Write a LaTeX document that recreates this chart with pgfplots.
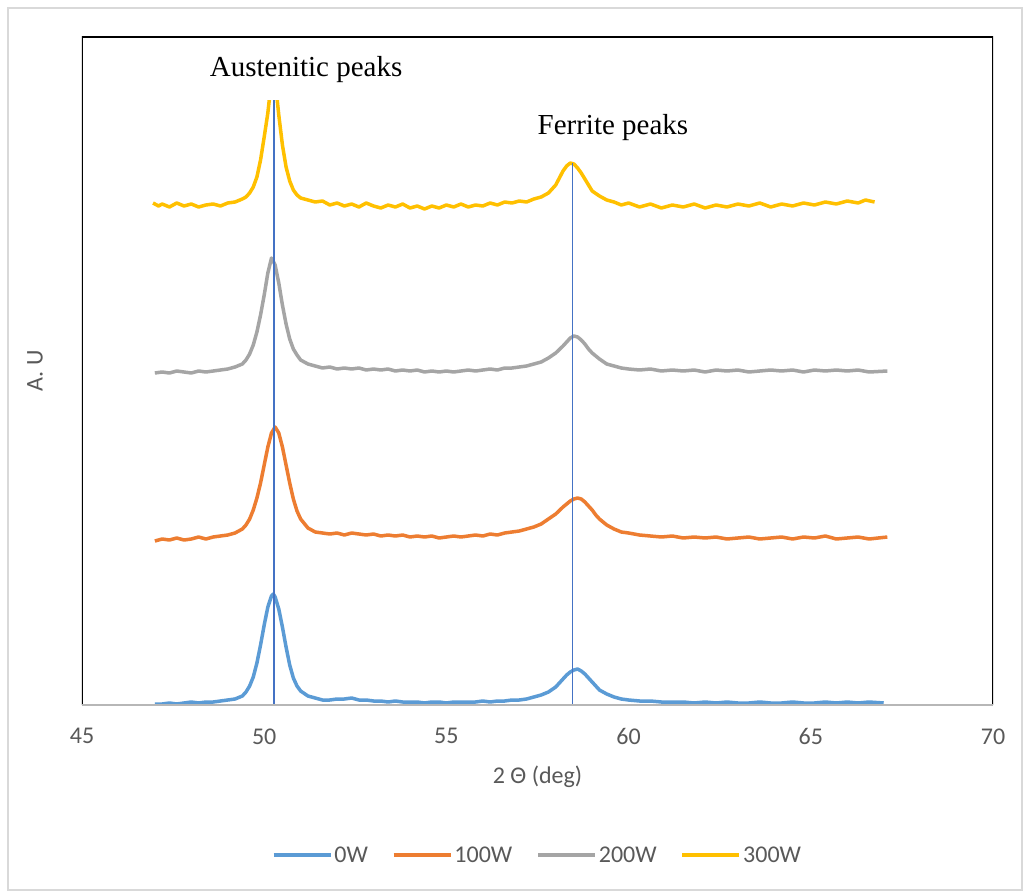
\documentclass[border=0pt]{standalone}
\usepackage{fontspec}
\setmainfont{Carlito}
\newfontfamily\timesfont{Liberation Serif}
\usepackage{pgfplots}
\pgfplotsset{compat=1.18}

\definecolor{c0}{HTML}{5B9BD5}
\definecolor{c1}{HTML}{ED7D31}
\definecolor{c2}{HTML}{A5A5A5}
\definecolor{c3}{HTML}{FFC000}
\definecolor{vline}{HTML}{4472C4}
\definecolor{txt}{HTML}{595959}
\definecolor{frame}{HTML}{D9D9D9}

\begin{document}
\begin{tikzpicture}
\useasboundingbox (-82pt,-190pt) rectangle (948pt,705pt);
\fill[white] (-82pt,-190pt) rectangle (948pt,705pt);
\draw[frame, line width=1.5pt] (-74pt,-185pt) rectangle (940pt,697pt);
\begin{axis}[
  scale only axis,
  width=911pt, height=668pt,
  xmin=45, xmax=70, ymin=0, ymax=668,
  xtick={45,50,...,70},
  ytick=\empty,
  major tick length=0pt,
  axis line style={draw=none},
  /pgf/number format/assume math mode=true,
  tick label style={font=\fontsize{24}{28}\selectfont, text=txt},
  xticklabel style={yshift=-20pt},
  xlabel={2 Θ (deg)},
  ylabel={A. U},
  every axis x label/.style={at={(axis description cs:0.5,0)}, anchor=center, yshift=-72pt, font=\fontsize{24}{28}\selectfont, text=txt},
  every axis y label/.style={at={(axis description cs:0,0.5)}, anchor=center, xshift=-47pt, rotate=90, font=\fontsize{24}{28}\selectfont, text=txt},
  legend columns=4,
  legend image code/.code={\draw[#1, line width=3.5pt] (0pt,0pt) -- (57pt,0pt);},
  legend style={draw=none, fill=none, at={(axis description cs:0.5,0)}, anchor=center, yshift=-150pt,
    font=\fontsize{24}{28}\selectfont, text=txt, nodes={inner xsep=2pt},
    /tikz/every even column/.append style={column sep=22pt}},
  every axis plot/.append style={line width=3.5pt, line join=round},
]
% 0W
\addplot[c0] coordinates {
(47.0,1) (47.2,1) (47.4,2) (47.6,1) (47.8,2) (48.0,3) (48.2,2) (48.4,3) (48.6,3) (48.8,4)
(49.0,5) (49.2,6) (49.4,9) (49.5,13) (49.6,19) (49.7,28) (49.8,42) (49.9,60) (50.0,80) (50.1,98)
(50.2,109) (50.25,111) (50.3,108) (50.4,96) (50.5,78) (50.6,58) (50.7,40) (50.8,27) (50.9,19) (51.0,14)
(51.2,9) (51.4,7) (51.6,5) (51.8,5) (52.0,6) (52.2,6) (52.4,7) (52.6,5) (52.8,5) (53.0,4)
(53.2,4) (53.4,3) (53.6,4) (53.8,3) (54.0,3) (54.2,3) (54.4,2) (54.6,3) (54.8,3) (55.0,2)
(55.2,3) (55.4,3) (55.6,3) (55.8,3) (56.0,4) (56.2,3) (56.4,4) (56.6,4) (56.8,5) (57.0,5)
(57.2,6) (57.4,8) (57.6,10) (57.8,13) (58.0,18) (58.1,22) (58.2,26) (58.3,30) (58.4,33) (58.5,35)
(58.6,36) (58.7,34) (58.8,31) (58.9,27) (59.0,23) (59.1,19) (59.2,15) (59.4,11) (59.6,8) (59.8,6)
(60.0,5) (60.3,4) (60.6,4) (60.9,3) (61.2,3) (61.5,3) (61.8,2) (62.1,3) (62.4,2) (62.7,3)
(63.0,2) (63.3,2) (63.6,3) (63.9,2) (64.2,2) (64.5,3) (64.8,2) (65.1,2) (65.4,3) (65.7,2)
(66.0,3) (66.3,2) (66.6,3) (67.0,2)
};
\addlegendentry{0W}
% 100W
\addplot[c1] coordinates {
(47.0,164) (47.2,166) (47.4,165) (47.6,167) (47.8,165) (48.0,166) (48.2,168) (48.4,166) (48.6,168) (48.8,169)
(49.0,170) (49.2,172) (49.4,176) (49.5,180) (49.6,186) (49.7,195) (49.8,207) (49.9,222) (50.0,240) (50.1,258)
(50.2,272) (50.3,278) (50.4,272) (50.5,258) (50.6,240) (50.7,222) (50.8,206) (50.9,194) (51.0,186) (51.2,177)
(51.4,173) (51.6,172) (51.8,171) (52.0,172) (52.2,170) (52.4,172) (52.6,171) (52.8,170) (53.0,171) (53.2,169)
(53.4,170) (53.6,169) (53.8,170) (54.0,168) (54.2,169) (54.4,168) (54.6,169) (54.8,167) (55.0,168) (55.2,169)
(55.4,168) (55.6,169) (55.8,170) (56.0,169) (56.2,171) (56.4,170) (56.6,172) (56.8,173) (57.0,174) (57.2,176)
(57.4,178) (57.6,181) (57.8,186) (58.0,191) (58.2,198) (58.4,204) (58.5,206) (58.6,207) (58.7,206) (58.8,203)
(58.9,199) (59.0,195) (59.1,190) (59.2,186) (59.4,180) (59.6,176) (59.8,173) (60.0,172) (60.3,170) (60.6,169)
(60.9,168) (61.2,169) (61.5,167) (61.8,168) (62.1,167) (62.4,168) (62.7,166) (63.0,167) (63.3,168) (63.6,166)
(63.9,167) (64.2,168) (64.5,166) (64.8,168) (65.1,167) (65.4,169) (65.7,166) (66.0,167) (66.3,168) (66.6,166)
(67.1,168)
};
\addlegendentry{100W}
% 200W
\addplot[c2] coordinates {
(47.0,332) (47.2,333) (47.4,332) (47.6,334) (47.8,333) (48.0,332) (48.2,334) (48.4,333) (48.6,334) (48.8,335)
(49.0,336) (49.2,338) (49.4,341) (49.5,345) (49.6,351) (49.7,360) (49.8,373) (49.9,390) (50.0,410) (50.1,432)
(50.2,447) (50.3,440) (50.4,422) (50.5,400) (50.6,381) (50.7,366) (50.8,356) (50.9,350) (51.0,345) (51.2,341)
(51.4,339) (51.6,337) (51.8,338) (52.0,336) (52.2,337) (52.4,336) (52.6,337) (52.8,335) (53.0,336) (53.2,335)
(53.4,336) (53.6,334) (53.8,335) (54.0,334) (54.2,335) (54.4,333) (54.6,334) (54.8,333) (55.0,334) (55.2,333)
(55.4,334) (55.6,335) (55.8,334) (56.0,335) (56.2,336) (56.4,335) (56.6,337) (56.8,337) (57.0,338) (57.2,339)
(57.4,341) (57.6,343) (57.8,347) (58.0,352) (58.2,359) (58.3,363) (58.4,367) (58.5,369) (58.6,368) (58.7,365)
(58.8,361) (58.9,356) (59.0,352) (59.2,346) (59.4,341) (59.6,339) (59.8,337) (60.0,336) (60.3,335) (60.6,336)
(60.9,334) (61.2,335) (61.5,334) (61.8,335) (62.1,333) (62.4,335) (62.7,334) (63.0,335) (63.3,333) (63.6,334)
(63.9,335) (64.2,334) (64.5,335) (64.8,333) (65.1,335) (65.4,334) (65.7,335) (66.0,334) (66.3,335) (66.6,333)
(67.1,334)
};
\addlegendentry{200W}
% 300W
\addplot[c3] coordinates {
(46.95,502) (47.1,499) (47.2,501) (47.4,498) (47.6,502) (47.8,499) (48.0,501) (48.2,498) (48.4,500) (48.6,501)
(48.8,499) (49.0,502) (49.2,503) (49.4,506) (49.5,508) (49.6,512) (49.7,518) (49.8,528) (49.9,545) (50.0,568)
(50.1,592) (50.2,625) (50.3,625) (50.4,590) (50.5,560) (50.6,538) (50.7,524) (50.8,515) (50.9,510) (51.0,507)
(51.2,505) (51.4,503) (51.6,504) (51.8,500) (52.0,502) (52.2,499) (52.4,501) (52.6,498) (52.8,502) (53.0,499)
(53.2,497) (53.4,500) (53.6,498) (53.8,501) (54.0,497) (54.2,499) (54.4,496) (54.6,499) (54.8,497) (55.0,500)
(55.2,498) (55.4,501) (55.6,498) (55.8,500) (56.0,499) (56.2,502) (56.4,500) (56.6,503) (56.8,502) (57.0,504)
(57.2,503) (57.4,506) (57.6,508) (57.8,512) (58.0,520) (58.1,527) (58.2,534) (58.3,539) (58.4,542) (58.5,541)
(58.6,537) (58.7,532) (58.8,526) (58.9,520) (59.0,514) (59.2,509) (59.4,505) (59.6,503) (59.8,500) (60.0,502)
(60.3,498) (60.6,501) (60.9,497) (61.2,500) (61.5,498) (61.8,501) (62.1,497) (62.4,500) (62.7,498) (63.0,501)
(63.3,499) (63.6,502) (63.9,498) (64.2,501) (64.5,499) (64.8,502) (65.1,500) (65.4,503) (65.7,501) (66.0,504)
(66.3,502) (66.5,505) (66.75,503)
};
\addlegendentry{300W}
% peak markers
\addplot[vline, line width=1.2pt, forget plot] coordinates {(50.27,0) (50.27,605)};
\addplot[vline, line width=1.2pt, forget plot] coordinates {(58.45,0) (58.45,542)};
% frame
\draw[black, line width=1.5pt] (rel axis cs:0,0) -- (rel axis cs:0,1) -- (rel axis cs:1,1) -- (rel axis cs:1,0);
\draw[c2!80, line width=1.2pt] (rel axis cs:0,0) -- (rel axis cs:1,0);
% labels
\fill[white] (axis cs:48.2,605) rectangle (axis cs:54.1,662);
\node[font=\timesfont\fontsize{29}{34}\selectfont, text=black] at (axis cs:51.15,635) {Austenitic peaks};
\node[font=\timesfont\fontsize{29}{34}\selectfont, text=black] at (axis cs:59.57,577) {Ferrite peaks};
\end{axis}
\end{tikzpicture}
\end{document}
